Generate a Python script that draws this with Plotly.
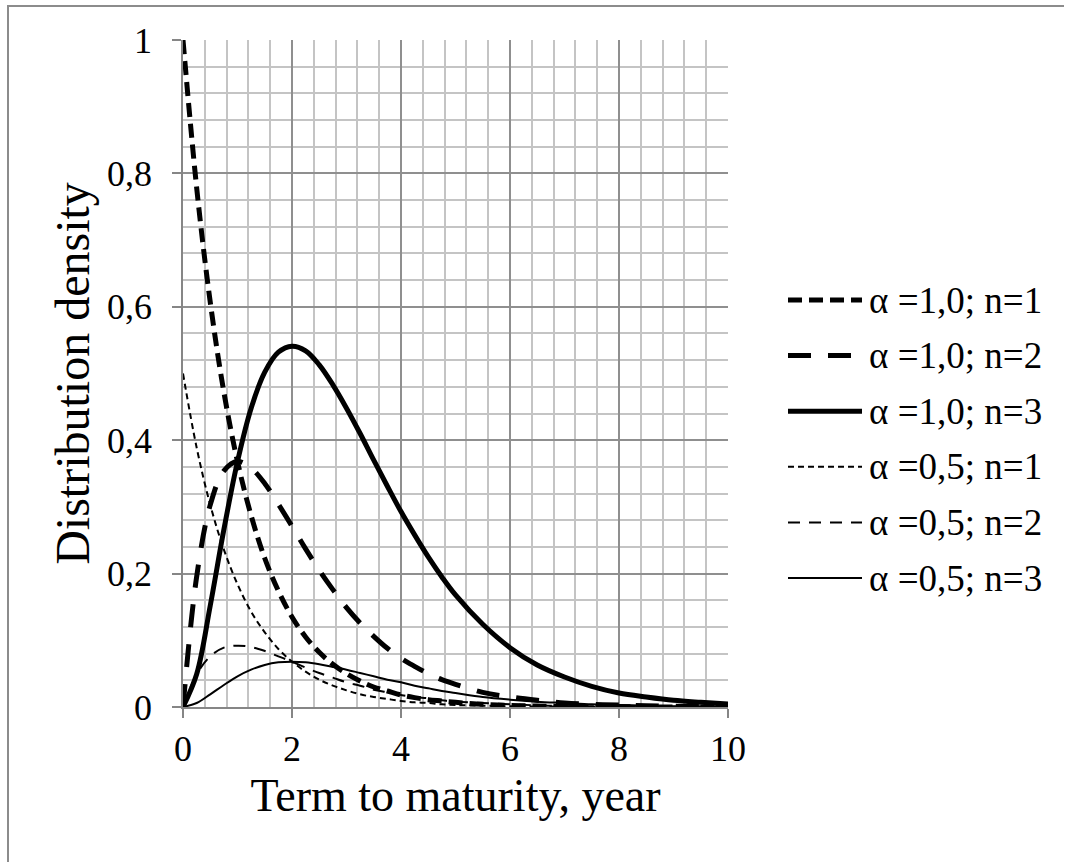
import plotly.graph_objects as go

# ---------------- data ----------------
term_years = [0, 0.25, 0.5, 0.75, 1, 1.25, 1.5, 1.75, 2, 2.25, 2.5, 2.75, 3, 3.25, 3.5,
              3.75, 4, 4.25, 4.5, 4.75, 5, 5.5, 6, 6.5, 7, 7.5, 8, 8.5, 9, 9.5, 10]

dens_a10_n1 = [1.000, 0.779, 0.607, 0.472, 0.368, 0.287, 0.223, 0.174, 0.135, 0.105, 0.082,
               0.064, 0.050, 0.039, 0.030, 0.024, 0.018, 0.014, 0.011, 0.009, 0.007,
               0.004, 0.0025, 0.0015, 0.0009, 0.0006, 0.0003, 0.0002, 0.0001, 0.0001, 0.0000]
dens_a10_n2 = [0.000, 0.195, 0.303, 0.354, 0.368, 0.358, 0.335, 0.304, 0.271, 0.237, 0.205,
               0.176, 0.149, 0.126, 0.106, 0.088, 0.073, 0.061, 0.050, 0.041, 0.034,
               0.022, 0.015, 0.010, 0.006, 0.004, 0.003, 0.002, 0.001, 0.0007, 0.0005]
dens_a10_n3 = [0.000, 0.049, 0.152, 0.266, 0.368, 0.448, 0.502, 0.532, 0.541, 0.534, 0.513,
               0.483, 0.448, 0.410, 0.370, 0.331, 0.293, 0.258, 0.225, 0.195, 0.168,
               0.124, 0.089, 0.063, 0.045, 0.031, 0.021, 0.015, 0.010, 0.007, 0.0045]
dens_a05_n1 = [0.500, 0.389, 0.303, 0.236, 0.184, 0.143, 0.112, 0.087, 0.068, 0.053, 0.041,
               0.032, 0.025, 0.019, 0.015, 0.012, 0.009, 0.007, 0.006, 0.004, 0.003,
               0.002, 0.0012, 0.0008, 0.0005, 0.0003, 0.0002, 0.0001, 0.0001, 0.0000, 0.0000]
dens_a05_n2 = [0.000, 0.049, 0.076, 0.089, 0.092, 0.090, 0.084, 0.076, 0.068, 0.059, 0.051,
               0.044, 0.037, 0.032, 0.026, 0.022, 0.018, 0.015, 0.013, 0.010, 0.008,
               0.006, 0.004, 0.0025, 0.0015, 0.001, 0.0008, 0.0004, 0.0003, 0.0002, 0.0001]
dens_a05_n3 = [0.000, 0.006, 0.019, 0.033, 0.046, 0.056, 0.063, 0.067, 0.068, 0.067, 0.064,
               0.060, 0.056, 0.051, 0.046, 0.041, 0.037, 0.032, 0.028, 0.024, 0.021,
               0.015, 0.011, 0.008, 0.006, 0.004, 0.003, 0.002, 0.001, 0.001, 0.0006]

series_names = ["α =1,0; n=1", "α =1,0; n=2", "α =1,0; n=3",
                "α =0,5; n=1", "α =0,5; n=2", "α =0,5; n=3"]
series_values = [dens_a10_n1, dens_a10_n2, dens_a10_n3,
                 dens_a05_n1, dens_a05_n2, dens_a05_n3]

x_tick_values = [0, 2, 4, 6, 8, 10]
x_tick_labels = ["0", "2", "4", "6", "8", "10"]
y_tick_values = [0, 0.2, 0.4, 0.6, 0.8, 1]
y_tick_labels = ["0", "0,2", "0,4", "0,6", "0,8", "1"]

x_title = "Term to maturity, year"
y_title = "Distribution density"

# ---------------- styles ----------------
FONT = "Liberation Serif"
line_styles = [
    dict(width=5, dash="14px,7px"),
    dict(width=5, dash="23px,17px"),
    dict(width=5, dash="solid"),
    dict(width=2, dash="6px,4px"),
    dict(width=2, dash="12px,9px"),
    dict(width=2, dash="solid"),
]

W, H = 1066, 863
ML, MR, MT, MB = 183, 338, 40, 156
plot_w = W - ML - MR
plot_h = H - MT - MB


def px_to_paper_x(px):
    return (px - ML) / plot_w


def py_to_paper_y(py):
    return (H - MB - py) / plot_h


fig = go.Figure()
for name, vals, st in zip(series_names, series_values, line_styles):
    fig.add_trace(go.Scatter(
        x=term_years, y=vals, mode="lines", name=name,
        line=dict(color="black", width=st["width"], dash=st["dash"],
                  shape="spline", smoothing=1.0),
        showlegend=False,
    ))

# custom legend with long line samples
shapes = []
annotations = []
row0_py, row_step = 300, 55.6
for i, (name, st) in enumerate(zip(series_names, line_styles)):
    yy = py_to_paper_y(row0_py + i * row_step)
    shapes.append(dict(type="line", xref="paper", yref="paper",
                       x0=px_to_paper_x(788), x1=px_to_paper_x(862), y0=yy, y1=yy,
                       line=dict(color="black", width=st["width"], dash=st["dash"])))
    annotations.append(dict(xref="paper", yref="paper", x=px_to_paper_x(867), y=yy,
                            text=name, showarrow=False, xanchor="left", yanchor="middle",
                            font=dict(family=FONT, size=37, color="black")))

# outer chart frame (only left and top edges are visible in the crop)
frame_color = "#8c8c8c"
shapes.append(dict(type="path", xref="paper", yref="paper", layer="below",
                   path="M {x0},{y1} L {x0},{y0} L {x1},{y0}".format(
                       x0=px_to_paper_x(8), y0=py_to_paper_y(6),
                       x1=px_to_paper_x(W - 2), y1=py_to_paper_y(H - 1)),
                   line=dict(color=frame_color, width=2)))

axis_common = dict(
    showline=True, linecolor="#868686", linewidth=1.5,
    ticks="outside", ticklen=9, tickcolor="#868686", tickwidth=1.5,
    showgrid=True, gridcolor="#8f8f8f", gridwidth=1.5,
    zeroline=False,
    tickfont=dict(family=FONT, size=36, color="black"),
)

fig.update_layout(
    width=W, height=H,
    margin=dict(l=ML, r=MR, t=MT, b=MB, autoexpand=False),
    paper_bgcolor="white", plot_bgcolor="white",
    font=dict(family=FONT, color="black"),
    shapes=shapes, annotations=annotations,
    xaxis=dict(range=[0, 10], tickvals=x_tick_values, ticktext=x_tick_labels,
               minor=dict(dtick=0.4, tick0=0, showgrid=True, gridcolor="#c4c4c4", gridwidth=1.5),
               title=dict(text=x_title, font=dict(family=FONT, size=46, color="black"), standoff=11),
               ticklabelstandoff=0,
               **axis_common),
    yaxis=dict(range=[0, 1], tickvals=y_tick_values, ticktext=y_tick_labels,
               minor=dict(dtick=0.04, tick0=0, showgrid=True, gridcolor="#c4c4c4", gridwidth=1.5),
               title=dict(text=y_title, font=dict(family=FONT, size=48, color="black"), standoff=2),
               ticklabelstandoff=13,
               **axis_common),
    showlegend=False,
)

fig.write_html("out.html", config={"displayModeBar": False})
